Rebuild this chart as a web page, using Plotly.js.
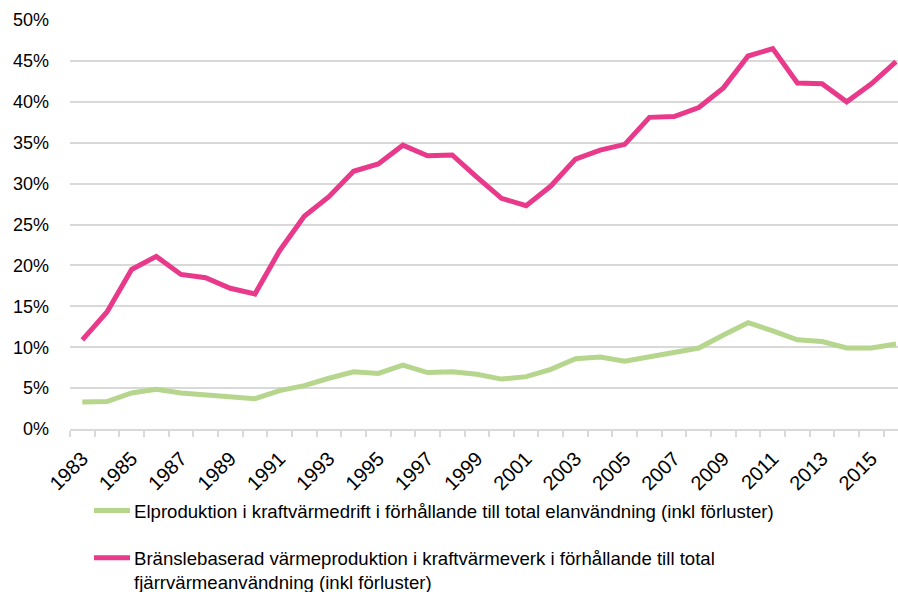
<!DOCTYPE html>
<html>
<head>
<meta charset="utf-8">
<script src="https://cdn.plot.ly/plotly-3.0.1.min.js"></script>
<style>html,body{margin:0;padding:0;background:#fff;}#chart{width:898px;height:592px;}</style>
</head>
<body>
<div id="chart"></div>
<script>
const years = [1983,1984,1985,1986,1987,1988,1989,1990,1991,1992,1993,1994,1995,1996,1997,1998,1999,2000,2001,2002,2003,2004,2005,2006,2007,2008,2009,2010,2011,2012,2013,2014,2015,2016];
const elproduktion = [3.3,3.35,4.4,4.85,4.4,4.2,3.9,3.7,4.7,5.3,6.2,7.0,6.8,7.8,6.9,7.0,6.7,6.1,6.4,7.3,8.6,8.8,8.3,8.8,9.4,9.9,11.5,13.0,12.0,10.9,10.7,9.9,9.9,10.4];
const bransle = [10.9,14.3,19.5,21.1,18.9,18.5,17.2,16.5,21.8,26.0,28.4,31.5,32.4,34.7,33.4,33.5,30.8,28.2,27.3,29.7,33.0,34.1,34.8,38.1,38.2,39.3,41.7,45.6,46.5,42.3,42.2,40.0,42.2,44.9];
const tickYears = [1983,1985,1987,1989,1991,1993,1995,1997,1999,2001,2003,2005,2007,2009,2011,2013,2015];
const yTicks = [0,5,10,15,20,25,30,35,40,45,50];
const names = [
  "Elproduktion i kraftvärmedrift i förhållande till total elanvändning (inkl förluster)",
  "Bränslebaserad värmeproduktion i kraftvärmeverk i förhållande till total<br>fjärrvärmeanvändning (inkl förluster)"
];

const font = "Liberation Sans, Arial, sans-serif";
const data = [
  {x: years, y: elproduktion, type: 'scatter', mode: 'lines', name: names[0], legendgroup: 'a',
   line: {color: '#b5d68c', width: 5}},
  {x: years, y: bransle, type: 'scatter', mode: 'lines', name: names[1], legendgroup: 'b',
   line: {color: '#e8398a', width: 5}}
];
const layout = {
  width: 898, height: 592,
  margin: {l: 70, r: 0, t: 20, b: 163},
  paper_bgcolor: '#fff', plot_bgcolor: '#fff',
  font: {family: font, size: 18, color: '#000'},
  showlegend: true,
  legend: {x: 0.029, xanchor: 'left', y: 0.169, yref: 'container', yanchor: 'top', valign: 'top',
           traceorder: 'grouped', tracegroupgap: 20, font: {family: font, size: 18.6, color: '#000'},
           bgcolor: 'rgba(0,0,0,0)'},
  xaxis: {
    type: 'linear', range: [1982.5, 2016.08], automargin: false,
    tickmode: 'array', tickvals: tickYears, ticktext: tickYears.map(String),
    tickangle: -45, ticks: '', showgrid: false, zeroline: false, ticklabelstandoff: 8,
    showline: true, linecolor: '#d9d9d9', linewidth: 2,
    tickfont: {family: font, size: 20, color: '#000'},
    minor: {tickmode: 'linear', tick0: 1982.5, dtick: 1, ticks: 'outside', ticklen: 6, tickcolor: '#d9d9d9', tickwidth: 2, showgrid: false}
  },
  yaxis: {
    range: [0, 50], automargin: false, tickmode: 'array', tickvals: yTicks, ticktext: yTicks.map(v => v + '%'),
    showgrid: true, gridcolor: '#d9d9d9', gridwidth: 2, zeroline: false, showline: false,
    ticks: '', ticklabelstandoff: 20,
    tickfont: {family: font, size: 18, color: '#000'}
  }
};
Plotly.newPlot('chart', data, layout, {displayModeBar: false, staticPlot: true}).then(function () {
  document.querySelectorAll('#chart .legend .legendlines path').forEach(function (p) {
    p.setAttribute('d', 'M-19,0h55');
  });
});
</script>
</body>
</html>
